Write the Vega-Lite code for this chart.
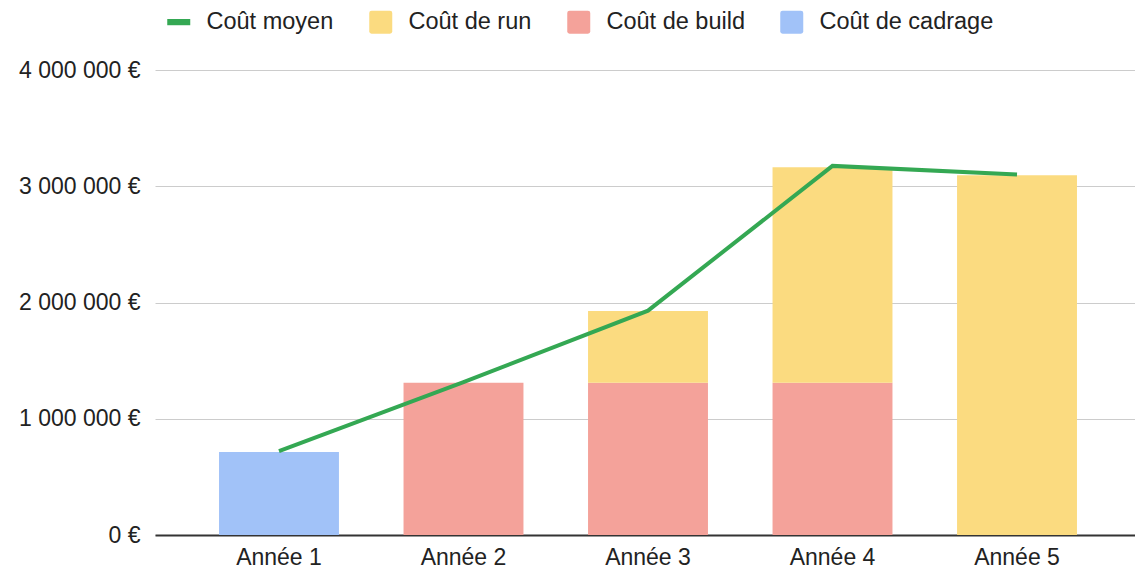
{
  "$schema": "https://vega.github.io/schema/vega-lite/v6.json",
  "autosize": "none",
  "width": 986,
  "height": 465,
  "padding": {"left": 155, "top": 70, "right": 0, "bottom": 34},
  "background": "white",
  "config": {
    "view": {"stroke": null},
    "font": "Liberation Sans"
  },
  "datasets": {
    "barres": [
      {"annee": "Année 1", "type": "Coût de cadrage", "ordre": 1, "cout": 715000},
      {"annee": "Année 2", "type": "Coût de build", "ordre": 2, "cout": 1310000},
      {"annee": "Année 3", "type": "Coût de build", "ordre": 2, "cout": 1310000},
      {"annee": "Année 3", "type": "Coût de run", "ordre": 3, "cout": 617000},
      {"annee": "Année 4", "type": "Coût de build", "ordre": 2, "cout": 1310000},
      {"annee": "Année 4", "type": "Coût de run", "ordre": 3, "cout": 1853000},
      {"annee": "Année 5", "type": "Coût de run", "ordre": 3, "cout": 3094000}
    ],
    "moyen": [
      {"annee": "Année 1", "cout": 722000},
      {"annee": "Année 2", "cout": 1315000},
      {"annee": "Année 3", "cout": 1930000},
      {"annee": "Année 4", "cout": 3175000},
      {"annee": "Année 5", "cout": 3102000}
    ]
  },
  "encoding": {
    "x": {
      "field": "annee",
      "type": "nominal",
      "sort": null,
      "scale": {"paddingInner": 0.35, "paddingOuter": 0.347},
      "axis": {
        "title": null,
        "labelAngle": 0,
        "ticks": false,
        "domainColor": "#333333",
        "domainWidth": 2,
        "labelFontSize": 23,
        "labelColor": "#222222",
        "labelPadding": 11,
        "grid": false
      }
    },
    "y": {
      "field": "cout",
      "type": "quantitative",
      "scale": {"domain": [0, 4000000], "nice": false},
      "axis": {
        "title": null,
        "values": [0, 1000000, 2000000, 3000000, 4000000],
        "domain": false,
        "ticks": false,
        "grid": true,
        "gridColor": "#cccccc",
        "gridWidth": 1,
        "labelFontSize": 23,
        "labelColor": "#222222",
        "labelPadding": 15,
        "labelExpr": "replace(replace(format(datum.value, ','), ',', ' '), ',', ' ') + ' €'"
      }
    }
  },
  "layer": [
    {
      "data": {"name": "barres"},
      "mark": {"type": "bar"},
      "encoding": {
        "y": {"field": "cout", "type": "quantitative", "stack": "zero"},
        "order": {"field": "ordre", "type": "quantitative"},
        "color": {
          "field": "type",
          "type": "nominal",
          "scale": {
            "domain": ["Coût moyen", "Coût de run", "Coût de build", "Coût de cadrage"],
            "range": ["#34a853", "#fbdb80", "#f4a29a", "#a1c2f8"]
          },
          "legend": {
            "title": null,
            "orient": "none",
            "legendX": 12,
            "legendY": -60,
            "direction": "horizontal",
            "columns": 4,
            "padding": 0,
            "labelFontSize": 23.5,
            "labelLimit": 400,
            "labelColor": "#222222",
            "symbolSize": 529,
            "labelOffset": 16,
            "columnPadding": 35,
            "symbolStrokeWidth": 0,
            "encode": {
              "symbols": {
                "update": {
                  "shape": {"signal": "datum.value === 'Coût moyen' ? 'M-1,-0.27H1V0.27H-1Z' : 'M-1,-0.8Q-1,-1,-0.8,-1H0.8Q1,-1,1,-0.8V0.8Q1,1,0.8,1H-0.8Q-1,1,-1,0.8Z'"},
                  "fill": {"signal": "scale('color', datum.value)"},
                  "stroke": {"value": "transparent"},
                  "opacity": {"value": 1}
                }
              }
            }
          }
        }
      }
    },
    {
      "data": {"name": "moyen"},
      "mark": {"type": "line", "strokeWidth": 4},
      "encoding": {
        "color": {"datum": "Coût moyen"}
      }
    }
  ]
}
